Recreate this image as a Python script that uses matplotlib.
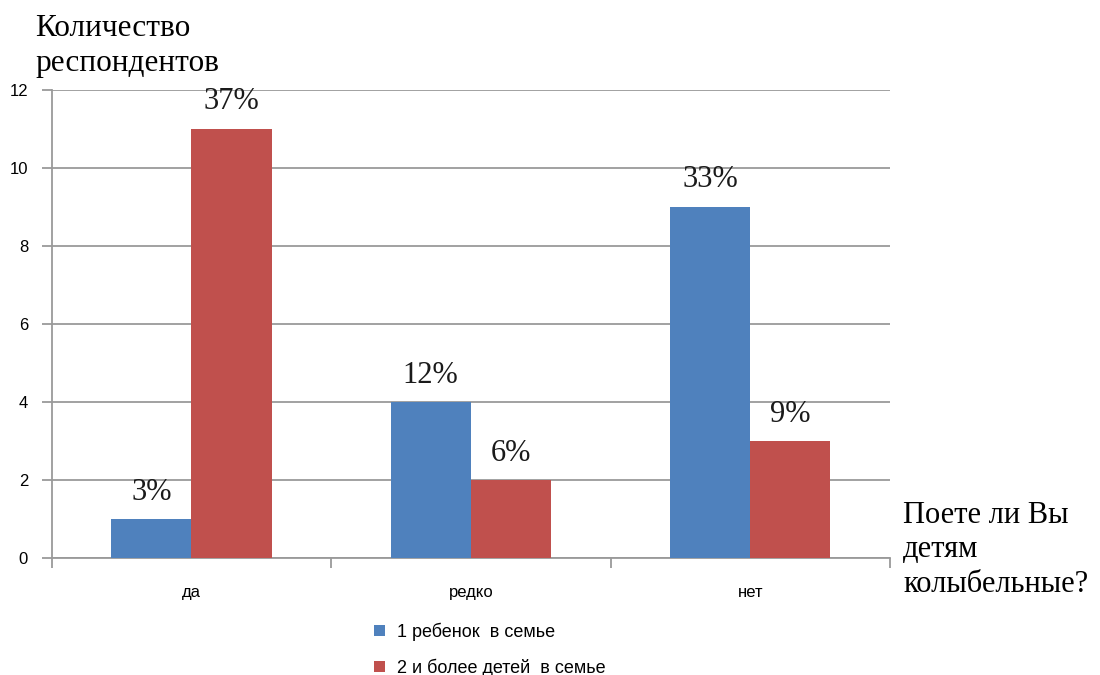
import matplotlib.pyplot as plt
import numpy as np

# ответы на вопрос и число респондентов по группам
answers = ["да", "редко", "нет"]
one_child = [1, 4, 9]
many_children = [11, 2, 3]
one_child_pct = ["3%", "12%", "33%"]
many_children_pct = ["37%", "6%", "9%"]
series_names = ["1 ребенок  в семье", "2 и более детей  в семье"]

blue = "#4F81BD"
red = "#C0504D"
serif = ["Liberation Serif", "DejaVu Serif"]
sans = ["Liberation Sans", "DejaVu Sans"]

fig = plt.figure(figsize=(11, 6.75), dpi=100)
ax = fig.add_axes([0.047, 0.173, 0.762, 0.694])

x = np.arange(len(answers))
w = 0.287
b1 = ax.bar(x - w / 2, one_child, w, color=blue, zorder=3)
b2 = ax.bar(x + w / 2, many_children, w, color=red, zorder=3)

# подписи процентов над столбцами
for bars, labels in ((b1, one_child_pct), (b2, many_children_pct)):
    for bar, lab in zip(bars, labels):
        ax.annotate(lab, (bar.get_x() + bar.get_width() / 2, bar.get_height()),
                    xytext=(0, 9), textcoords="offset points", ha="center",
                    va="bottom", fontsize=22, family=serif, color="#1a1a1a")

ax.set_xlim(-0.5, 2.5)
ax.set_ylim(0, 12)
ax.set_yticks(range(0, 13, 2))
ax.yaxis.grid(True, color="#9a9a9a", linewidth=1.3, zorder=0)
ax.set_axisbelow(True)

ax.set_xticks(x)
ax.set_xticklabels(answers, family=sans, fontsize=12)
ax.tick_params(axis="x", length=0, pad=19)
ax.set_xticks([-0.5, 0.5, 1.5, 2.5], minor=True)
ax.tick_params(axis="x", which="minor", length=7, color="#9a9a9a", width=1.3)
ax.tick_params(axis="y", length=7, color="#9a9a9a", width=1.3, pad=10, labelsize=12)
for t in ax.get_yticklabels():
    t.set_family(sans)

for side in ("top", "right"):
    ax.spines[side].set_visible(False)
for side in ("left", "bottom"):
    ax.spines[side].set_color("#9a9a9a")
    ax.spines[side].set_linewidth(1.3)

# подписи осей
fig.text(0.032, 0.98, "Количество\nреспондентов", ha="left", va="top",
         fontsize=22.5, family=serif, linespacing=1.3)
fig.text(0.821, 0.258, "Поете ли Вы\nдетям\nколыбельные?", ha="left", va="top",
         fontsize=22, family=serif, linespacing=1.25)

fig.legend([b1, b2], series_names, loc="upper left",
           bbox_to_anchor=(0.325, 0.102), frameon=False, ncol=1,
           prop={"family": sans, "size": 13}, handlelength=0.6,
           handleheight=0.6, handletextpad=0.7, labelspacing=1.0)

fig.savefig("out.png", dpi=100)
